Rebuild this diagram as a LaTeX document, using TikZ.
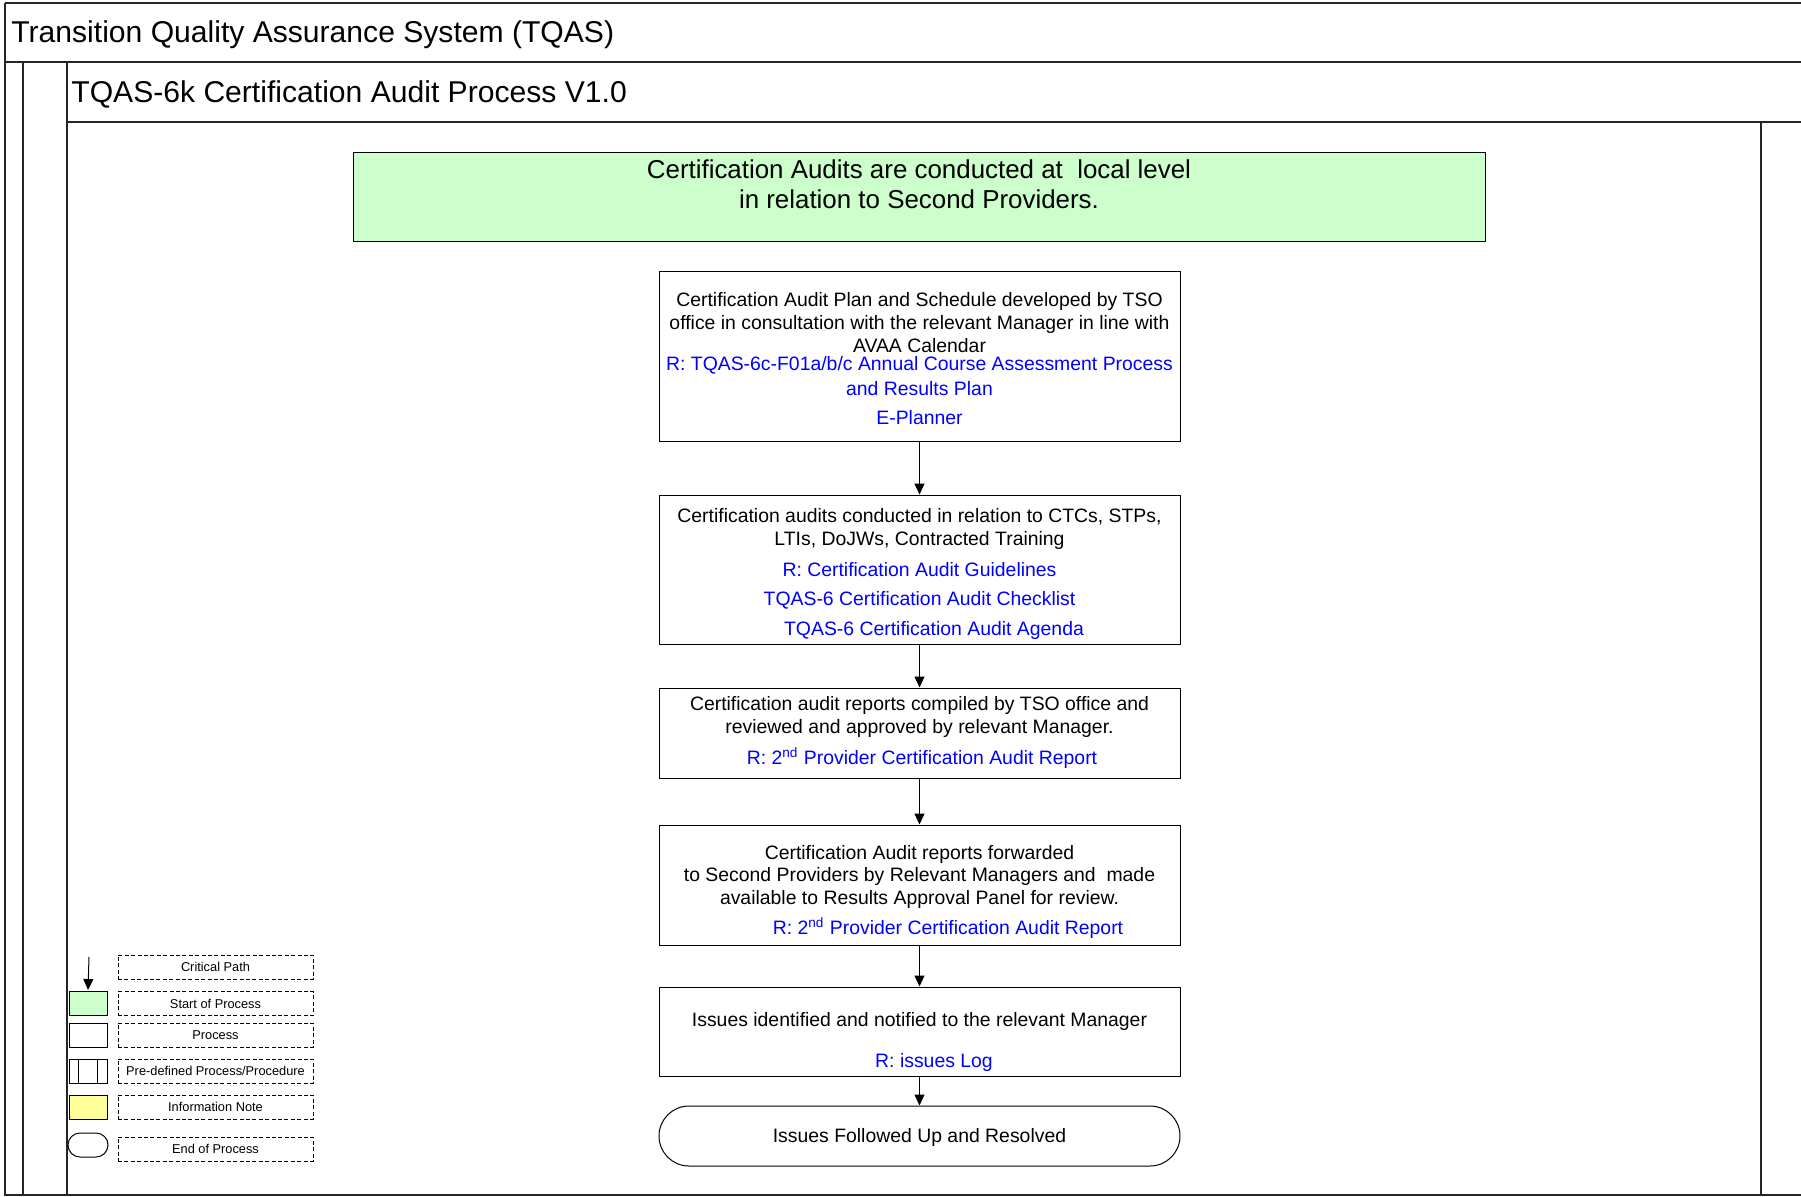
\documentclass[tikz,border=0pt]{standalone}
\usepackage{fontspec}
\setmainfont{Liberation Sans}
\usetikzlibrary{arrows.meta}
\definecolor{startgreen}{HTML}{CCFFCC}
\definecolor{noteyellow}{HTML}{FFFF99}
\definecolor{refblue}{HTML}{0000FF}
\begin{document}
\begin{tikzpicture}[x=0.5pt,y=-0.5pt,
  frame/.style={draw=black!85, line width=0.6pt},
  titletxt/.style={anchor=west, inner sep=0pt, yshift=-1.7pt, font=\fontsize{15.05}{18}\selectfont},
  procbox/.style={draw, line width=0.5pt, minimum width=260.5pt, inner sep=0pt},
  btxt/.style={inner sep=0pt, yshift=-1.1pt, font=\fontsize{9.7}{11.6}\selectfont},
  rtxt/.style={btxt, text=refblue},
  flow/.style={draw, line width=0.5pt, -{Triangle[length=5.5pt,width=5pt]}},
  legbox/.style={draw, dashed, dash pattern=on 2pt off 1.2pt, line width=0.4pt, minimum width=97.5pt, minimum height=12pt, inner sep=0pt, font=\fontsize{6.4}{7}\selectfont},
  legshape/.style={draw, line width=0.5pt, minimum width=19pt, minimum height=12pt, inner sep=0pt}
]
\useasboundingbox (0,0) rectangle (1801,1196);

% frame
\draw[frame] (5,3) -- (1801,3);
\draw[frame] (5,3) -- (5,1195) -- (1801,1195);
\draw[frame] (5,62) -- (1801,62);
\draw[frame] (23,62) -- (23,1195);
\draw[frame] (67,62) -- (67,1195);
\draw[frame] (67,122) -- (1801,122);
\draw[frame] (1761,122) -- (1761,1195);

\node[titletxt] (t1) at (11,31) {Transition Quality Assurance System (TQAS)};
\node[titletxt] (t2) at (71,91) {TQAS-6k Certification Audit Process V1.0};

% start box
\node[draw, line width=0.5pt, fill=startgreen, minimum width=566pt, minimum height=44.5pt, inner sep=0pt] (start) at (919,196.5) {};
\node[inner sep=0pt, yshift=-0.8pt, font=\fontsize{12.95}{15}\selectfont] (s1) at (919,168) {Certification Audits are conducted at\ \ local level};
\node[inner sep=0pt, yshift=-0.8pt, font=\fontsize{12.95}{15}\selectfont] (s2) at (919,198) {in relation to Second Providers.};

% box 1
\node[procbox, minimum height=85pt] (b1) at (919.5,356) {};
\node[btxt] (b1a) at (919.5,299) {Certification Audit Plan and Schedule developed by TSO};
\node[btxt] (b1b) at (919.5,322) {office in consultation with the relevant Manager in line with};
\node[btxt] (b1c) at (919.5,343) {AVAA Calendar};
\node[rtxt] (b1d) at (919.5,363) {R: TQAS-6c-F01a/b/c Annual Course Assessment Process};
\node[rtxt] (b1e) at (919.5,386) {and Results Plan};
\node[rtxt] (b1f) at (919.5,415) {E-Planner};

% box 2
\node[procbox, minimum height=74.5pt] (b2) at (919.5,569.5) {};
\node[btxt] (b2a) at (919.5,515) {Certification audits conducted in relation to CTCs, STPs,};
\node[btxt] (b2b) at (919.5,538) {LTIs, DoJWs, Contracted Training};
\node[rtxt] (b2c) at (919.5,567) {R: Certification Audit Guidelines};
\node[rtxt] (b2d) at (919.5,598) {TQAS-6 Certification Audit Checklist};
\node[rtxt] (b2e) at (934,628) {TQAS-6 Certification Audit Agenda};

% box 3
\node[procbox, minimum height=45pt] (b3) at (919.5,733) {};
\node[btxt] (b3a) at (919.5,703) {Certification audit reports compiled by TSO office and};
\node[btxt] (b3b) at (919.5,726) {reviewed and approved by relevant Manager.};
\node[rtxt] (b3c) at (922,756) {R: 2\textsuperscript{nd} Provider Certification Audit Report};

% box 4
\node[procbox, minimum height=60pt] (b4) at (919.5,885) {};
\node[btxt] (b4a) at (919.5,852) {Certification Audit reports forwarded};
\node[btxt] (b4b) at (919.5,874) {to Second Providers by Relevant Managers and\ \ made};
\node[btxt] (b4c) at (919.5,897) {available to Results Approval Panel for review.};
\node[rtxt] (b4d) at (948,926) {R: 2\textsuperscript{nd} Provider Certification Audit Report};

% box 5
\node[procbox, minimum height=44.5pt] (b5) at (919.5,1031.5) {};
\node[btxt] (b5a) at (919.5,1019) {Issues identified and notified to the relevant Manager};
\node[rtxt] (b5b) at (934,1060) {R: issues Log};

% end
\node[procbox, minimum height=30pt, rounded corners=15pt] (e) at (919.5,1136) {};
\node[btxt] (ea) at (919.5,1135) {Issues Followed Up and Resolved};

% connectors
\draw[flow] (b1.south) -- (b2.north);
\draw[flow] (b2.south) -- (b3.north);
\draw[flow] (b3.south) -- (b4.north);
\draw[flow] (b4.south) -- (b5.north);
\draw[flow] (b5.south) -- (e.north);

% legend
\coordinate (cpa) at (89,957);
\coordinate (cpb) at (88,990);
\draw[flow] (cpa) -- (cpb);
\node[legbox] (l1) at (215.5,967) {Critical Path};
\node[legshape, fill=startgreen] (g2) at (88,1003) {};
\node[legbox] (l2) at (215.5,1003.5) {Start of Process};
\node[legshape] (g3) at (88,1035) {};
\node[legbox] (l3) at (215.5,1035) {Process};
\node[legshape] (g4) at (88,1071) {};
\draw[line width=0.5pt] ([xshift=5pt]g4.north west) -- ([xshift=5pt]g4.south west);
\draw[line width=0.5pt] ([xshift=-5pt]g4.north east) -- ([xshift=-5pt]g4.south east);
\node[legbox] (l4) at (215.5,1071) {Pre-defined Process/Procedure};
\node[legshape, fill=noteyellow] (g5) at (88,1107) {};
\node[legbox] (l5) at (215.5,1107) {Information Note};
\node[legshape, rounded corners=6pt, minimum width=20pt] (g6) at (88,1145) {};
\node[legbox] (l6) at (215.5,1149) {End of Process};
\end{tikzpicture}
\end{document}
